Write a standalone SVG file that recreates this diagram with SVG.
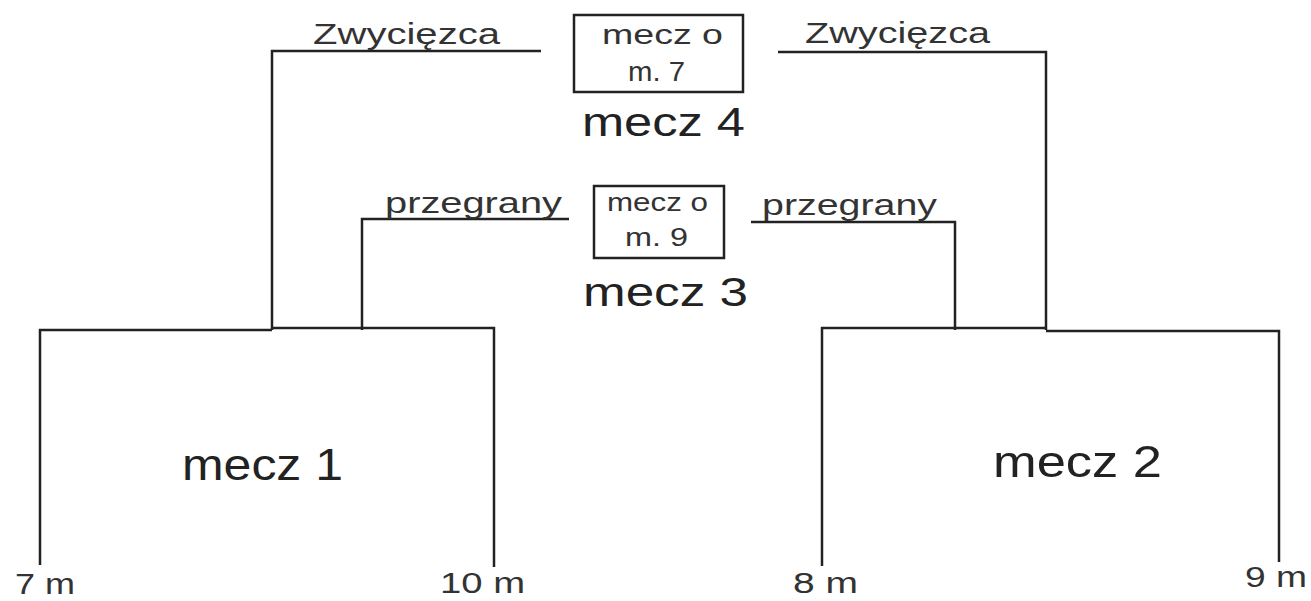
<svg xmlns="http://www.w3.org/2000/svg" width="1311" height="601" viewBox="0 0 1311 601">
<style>
.t{font-family:"Liberation Sans",Arial,sans-serif;fill:#222}
.s{fill:#333}
.ln{fill:none;stroke:#222;stroke-width:2.5}
.box{fill:#fff;stroke:#222;stroke-width:2.5}
.mid{font-size:30px}
</style>
<rect width="1311" height="601" fill="#fff"/>
<g id="connectors">
<path class="ln" d="M541,51 H272 V330"/>
<path class="ln" d="M778,52 H1046 V330"/>
<path class="ln" d="M569,219 H362 V330"/>
<path class="ln" d="M751,222 H955 V330"/>
<path class="ln" d="M40,565 V330 H272"/>
<path class="ln" d="M272,328 H494 V567"/>
<path class="ln" d="M822,566 V328 H1046"/>
<path class="ln" d="M1046,331 H1279 V562"/>
</g>
<g id="match4">
<rect class="box" x="574" y="15" width="169" height="77"/>
<text class="t s" x="602" y="44" font-size="28" textLength="121" lengthAdjust="spacingAndGlyphs">mecz o</text>
<text class="t s" x="628" y="81" font-size="28" textLength="57" lengthAdjust="spacingAndGlyphs">m. 7</text>
<text class="t" x="582" y="136" font-size="40" textLength="163" lengthAdjust="spacingAndGlyphs">mecz 4</text>
</g>
<g id="match3">
<rect class="box" x="594" y="186" width="130" height="72"/>
<text class="t s" x="607" y="211" font-size="25" textLength="101" lengthAdjust="spacingAndGlyphs">mecz o</text>
<text class="t s" x="625" y="246" font-size="25" textLength="63" lengthAdjust="spacingAndGlyphs">m. 9</text>
<text class="t" x="583" y="306" font-size="40" textLength="165" lengthAdjust="spacingAndGlyphs">mecz 3</text>
</g>
<g id="label-winner-left"><text class="t s mid" x="313" y="44" textLength="187" lengthAdjust="spacingAndGlyphs">Zwycięzca</text></g>
<g id="label-winner-right"><text class="t s mid" x="805" y="43" textLength="185" lengthAdjust="spacingAndGlyphs">Zwycięzca</text></g>
<g id="label-loser-left"><text class="t s mid" x="385" y="213" textLength="177" lengthAdjust="spacingAndGlyphs">przegrany</text></g>
<g id="label-loser-right"><text class="t s mid" x="762" y="215" textLength="175" lengthAdjust="spacingAndGlyphs">przegrany</text></g>
<g id="match1"><text class="t" x="182" y="480" font-size="44" textLength="161" lengthAdjust="spacingAndGlyphs">mecz 1</text></g>
<g id="match2"><text class="t" x="993" y="477" font-size="44" textLength="169" lengthAdjust="spacingAndGlyphs">mecz 2</text></g>
<g id="seed7"><text class="t s" x="15" y="594" font-size="29" textLength="60" lengthAdjust="spacingAndGlyphs">7 m</text></g>
<g id="seed10"><text class="t s" x="440" y="593" font-size="29" textLength="85" lengthAdjust="spacingAndGlyphs">10 m</text></g>
<g id="seed8"><text class="t s" x="793" y="593" font-size="29" textLength="65" lengthAdjust="spacingAndGlyphs">8 m</text></g>
<g id="seed9"><text class="t s" x="1245" y="587" font-size="29" textLength="62" lengthAdjust="spacingAndGlyphs">9 m</text></g>
</svg>
